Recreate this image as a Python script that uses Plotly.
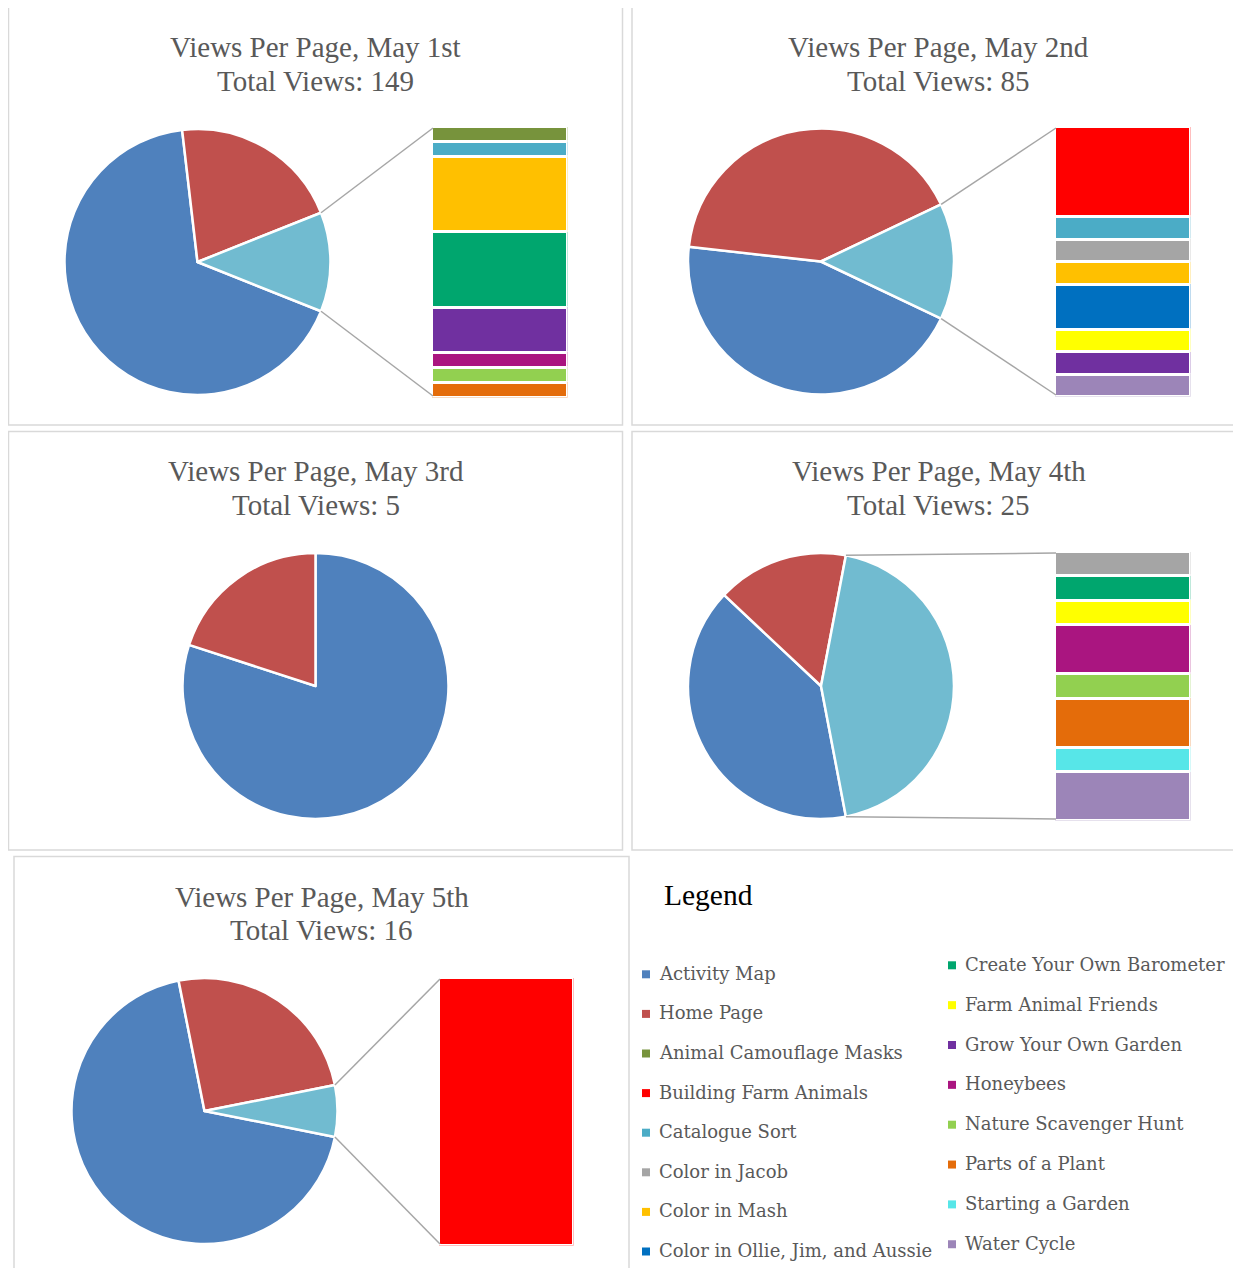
import plotly.graph_objects as go
import math

# ---------------- data ----------------
days = ["May 1st", "May 2nd", "May 3rd", "May 4th", "May 5th"]
activity_map_views = [100, 38, 4, 10, 11]
home_page_views = [31, 35, 1, 4, 4]

may1_other_pages = ["Animal Camouflage Masks", "Catalogue Sort", "Color in Mash",
                    "Create Your Own Barometer", "Grow Your Own Garden", "Honeybees",
                    "Nature Scavenger Hunt", "Parts of a Plant"]
may1_other_views = [1, 1, 5, 5, 3, 1, 1, 1]

may2_other_pages = ["Building Farm Animals", "Catalogue Sort", "Color in Jacob", "Color in Mash",
                    "Color in Ollie, Jim, and Aussie", "Farm Animal Friends",
                    "Grow Your Own Garden", "Water Cycle"]
may2_other_views = [4, 1, 1, 1, 2, 1, 1, 1]

may3_other_pages = []
may3_other_views = []

may4_other_pages = ["Color in Jacob", "Create Your Own Barometer", "Farm Animal Friends",
                    "Honeybees", "Nature Scavenger Hunt", "Parts of a Plant",
                    "Starting a Garden", "Water Cycle"]
may4_other_views = [1, 1, 1, 2, 1, 2, 1, 2]

may5_other_pages = ["Building Farm Animals"]
may5_other_views = [1]

legend_col1 = ["Activity Map", "Home Page", "Animal Camouflage Masks", "Building Farm Animals",
               "Catalogue Sort", "Color in Jacob", "Color in Mash", "Color in Ollie, Jim, and Aussie"]
legend_col2 = ["Create Your Own Barometer", "Farm Animal Friends", "Grow Your Own Garden",
               "Honeybees", "Nature Scavenger Hunt", "Parts of a Plant", "Starting a Garden",
               "Water Cycle"]

# ---------------- styles ----------------
page_colors = {
    "Activity Map": "#4F81BD",
    "Home Page": "#C0504D",
    "Other": "#71BBD0",
    "Animal Camouflage Masks": "#77933C",
    "Building Farm Animals": "#FF0000",
    "Catalogue Sort": "#4BACC6",
    "Color in Jacob": "#A5A5A5",
    "Color in Mash": "#FFC000",
    "Color in Ollie, Jim, and Aussie": "#0070C0",
    "Create Your Own Barometer": "#00A66E",
    "Farm Animal Friends": "#FFFF00",
    "Grow Your Own Garden": "#7030A0",
    "Honeybees": "#AA1580",
    "Nature Scavenger Hunt": "#92D050",
    "Parts of a Plant": "#E46C0A",
    "Starting a Garden": "#57E6E8",
    "Water Cycle": "#9C85B8",
}

# page body has an 8px margin: the figure starts at (8, 8) in the window
OFF = 8
W, H = 1241 - OFF, 1268 - OFF
def fx(x):
    return (x - OFF) / W
def fy(y):
    return 1 - (y - OFF) / H

# panel layout (window pixels)
panels = [
    dict(border=(8.5, 7, 622.5, 425), tcx=315.5, ty=(46.5, 80.5), pie=(197.5, 262, 133), bar=(433, 128, 566, 396)),
    dict(border=(632, 7, 1250, 425), tcx=938.5, ty=(46.5, 80.5), pie=(821, 261.5, 133), bar=(1056, 128, 1189, 395)),
    dict(border=(8.5, 431.5, 622.5, 850), tcx=315.5, ty=(471, 505), pie=(315.5, 686, 133), bar=None),
    dict(border=(632, 431.5, 1250, 850), tcx=938.5, ty=(471, 505), pie=(821, 686, 133), bar=(1056, 553, 1189, 819)),
    dict(border=(14, 856.5, 629, 1290), tcx=321.5, ty=(896.5, 930), pie=(204.5, 1111, 133), bar=(440, 979, 572, 1244)),
]
others_pages = [may1_other_pages, may2_other_pages, may3_other_pages, may4_other_pages, may5_other_pages]
others_views = [may1_other_views, may2_other_views, may3_other_views, may4_other_views, may5_other_views]

title_font = dict(family="Liberation Serif, Times New Roman, serif", size=29, color="#595959")
legend_font = dict(family="DejaVu Serif, serif", size=18, color="#595959")

fig = go.Figure()
shapes = []
annotations = []
layout_axes = {}
axis_k = 0

for i, p in enumerate(panels):
    am = activity_map_views[i]
    hp = home_page_views[i]
    oth = sum(others_views[i])
    total = am + hp + oth
    labels = ["Activity Map", "Home Page"] + (["Other"] if oth > 0 else [])
    values = [am, hp] + ([oth] if oth > 0 else [])
    other_deg = oth / total * 360
    rotation = 90 + other_deg / 2 if oth > 0 else 0
    cx, cy, r = p["pie"]
    fig.add_trace(go.Pie(
        labels=labels, values=values, sort=False, direction="clockwise", rotation=rotation,
        marker=dict(colors=[page_colors[l] for l in labels], line=dict(color="white", width=2.5)),
        textinfo="none", hoverinfo="label+value", showlegend=False,
        domain=dict(x=[fx(cx - r), fx(cx + r)], y=[fy(cy + r), fy(cy - r)]),
    ))

    # border
    bx0, by0, bx1, by1 = p["border"]
    shapes.append(dict(type="rect", xref="paper", yref="paper", x0=fx(bx0), x1=fx(bx1),
                       y0=fy(by1), y1=fy(by0), line=dict(color="#D9D9D9", width=1.5),
                       fillcolor="rgba(0,0,0,0)", layer="below"))
    # titles
    annotations.append(dict(text=f"Views Per Page, {days[i]}", x=fx(p["tcx"]), y=fy(p["ty"][0]),
                            xref="paper", yref="paper", showarrow=False, xanchor="center",
                            yanchor="middle", font=title_font))
    annotations.append(dict(text=f"Total Views: {total}", x=fx(p["tcx"]), y=fy(p["ty"][1]),
                            xref="paper", yref="paper", showarrow=False, xanchor="center",
                            yanchor="middle", font=title_font))

    if oth > 0 and p["bar"] is not None:
        axis_k += 1
        xa = "x" if axis_k == 1 else f"x{axis_k}"
        ya = "y" if axis_k == 1 else f"y{axis_k}"
        x0, y0, x1, y1 = p["bar"]
        for page, v in zip(others_pages[i], others_views[i]):
            fig.add_trace(go.Bar(
                x=[0], y=[v], width=1, name=page, xaxis=xa, yaxis=ya, showlegend=False,
                marker=dict(color=page_colors[page], line=dict(color="white", width=3)),
                hoverinfo="name+y",
            ))
        pad = 1.5
        layout_axes["xaxis" if axis_k == 1 else f"xaxis{axis_k}"] = dict(
            domain=[fx(x0 - pad), fx(x1 + pad)], range=[-0.5, 0.5], visible=False,
            anchor=ya, fixedrange=True)
        layout_axes["yaxis" if axis_k == 1 else f"yaxis{axis_k}"] = dict(
            domain=[fy(y1 + pad), fy(y0 - pad)], range=[oth, 0], visible=False,
            anchor=xa, fixedrange=True)

        # connector lines from the "Other" slice edges to the bar corners
        a_start = math.radians(rotation + (am + hp) / total * 360)
        a_end = math.radians(rotation + 360)
        pts = [(cx + r * math.sin(a), cy - r * math.cos(a)) for a in (a_start, a_end)]
        pts.sort(key=lambda t: t[1])
        for (ex, ey), (tx, ty) in zip(pts, [(x0, y0), (x0, y1)]):
            shapes.append(dict(type="line", xref="paper", yref="paper",
                               x0=fx(ex), y0=fy(ey), x1=fx(tx), y1=fy(ty),
                               line=dict(color="#A6A6A6", width=1.5)))

# legend panel
annotations.append(dict(text="Legend", x=fx(662), y=fy(895), xref="paper", yref="paper",
                        showarrow=False, xanchor="left", yanchor="middle",
                        font=dict(family="Liberation Serif, Times New Roman, serif", size=29.5,
                                  color="#000000")))
legend_cols = [
    (legend_col1, 646, 657, 974.3, 39.6),
    (legend_col2, 952, 963, 965.3, 39.85),
]
for names, mx, tx, ystart, step in legend_cols:
    for j, name in enumerate(names):
        yy = ystart + j * step
        shapes.append(dict(type="rect", xref="paper", yref="paper",
                           x0=fx(mx - 4), x1=fx(mx + 4), y0=fy(yy + 4), y1=fy(yy - 4),
                           fillcolor=page_colors[name], line=dict(width=0)))
        annotations.append(dict(text=name, x=fx(tx), y=fy(yy - 1), xref="paper", yref="paper",
                                showarrow=False, xanchor="left", yanchor="middle", font=legend_font))

fig.update_layout(
    width=W, height=H, margin=dict(l=0, r=0, t=0, b=0),
    paper_bgcolor="white", plot_bgcolor="white",
    barmode="stack", shapes=shapes, annotations=annotations, showlegend=False,
    **layout_axes,
)

fig.write_html("out.html")
